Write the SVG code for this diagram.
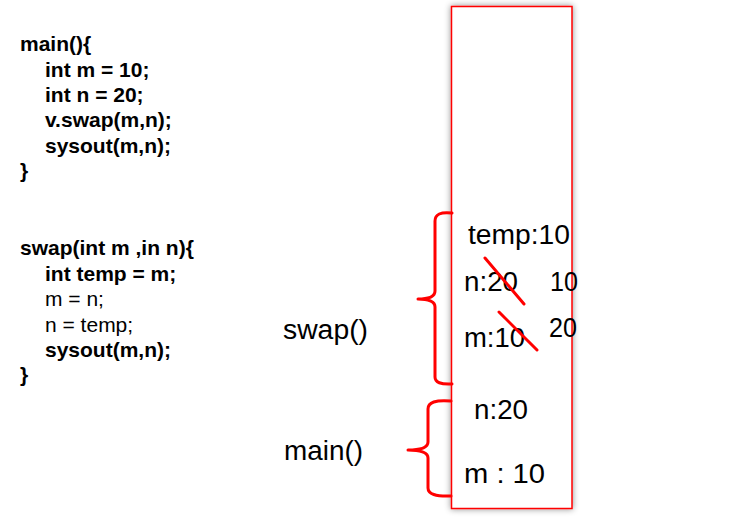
<svg xmlns="http://www.w3.org/2000/svg" width="748" height="517" viewBox="0 0 748 517">
<style>
.code{font-family:"Liberation Sans",Arial,sans-serif;font-size:21px;fill:#000}
.b{font-weight:bold}
.lbl{font-family:"Liberation Sans",Arial,sans-serif;font-size:27px;fill:#000}
.brace{fill:none;stroke:#ff0000;stroke-width:3;stroke-linejoin:round;stroke-linecap:round}
.strike{stroke:#ff0000;stroke-width:3;stroke-linecap:round}
</style>
<defs>
<filter id="sh" x="-10%" y="-5%" width="120%" height="110%">
<feGaussianBlur in="SourceAlpha" stdDeviation="3"/>
<feColorMatrix type="matrix" values="0 0 0 0 0  0 0 0 0 0  0 0 0 0 0  0 0 0 0.45 0"/>
<feMerge><feMergeNode/><feMergeNode in="SourceGraphic"/></feMerge>
</filter>
</defs>
<rect width="748" height="517" fill="#fff"/>
<g id="main-code">
<text class="code b" x="20" y="51">main(){</text>
<text class="code b" x="45" y="76.5">int m = 10;</text>
<text class="code b" x="45" y="102">int n = 20;</text>
<text class="code b" x="45" y="127">v.swap(m,n);</text>
<text class="code b" x="45" y="152.5">sysout(m,n);</text>
<text class="code b" x="20" y="178">}</text>
</g>
<g id="swap-code">
<text class="code b" x="20" y="255">swap(int m ,in n){</text>
<text class="code b" x="45" y="280.5">int temp = m;</text>
<text class="code" x="45" y="306">m = n;</text>
<text class="code" x="45" y="331.5">n = temp;</text>
<text class="code b" x="45" y="357">sysout(m,n);</text>
<text class="code b" x="20" y="382">}</text>
</g>
<g id="stack">
<rect x="451.5" y="6.5" width="120.5" height="502" fill="#fff" stroke="#ff0000" stroke-width="1.5" filter="url(#sh)"/>
</g>
<g id="swap-frame">
<text class="lbl" x="283" y="339" textLength="85" lengthAdjust="spacingAndGlyphs">swap()</text>
<text class="lbl" x="468" y="244" textLength="102" lengthAdjust="spacingAndGlyphs">temp:10</text>
<text class="lbl" x="464" y="291" textLength="54" lengthAdjust="spacingAndGlyphs">n:20</text>
<text class="lbl" x="550" y="291" textLength="28" lengthAdjust="spacingAndGlyphs">10</text>
<text class="lbl" x="464" y="347" textLength="61" lengthAdjust="spacingAndGlyphs">m:10</text>
<text class="lbl" x="549" y="337" textLength="28" lengthAdjust="spacingAndGlyphs">20</text>
<line class="strike" x1="485" y1="258" x2="524" y2="304"/>
<line class="strike" x1="499" y1="312" x2="537" y2="350"/>
</g>
<g id="main-frame">
<text class="lbl" x="284" y="460" textLength="79" lengthAdjust="spacingAndGlyphs">main()</text>
<text class="lbl" x="474" y="419" textLength="54" lengthAdjust="spacingAndGlyphs">n:20</text>
<text class="lbl" x="464" y="483" textLength="81" lengthAdjust="spacingAndGlyphs">m : 10</text>
</g>
<g id="connectors">
<path class="brace" d="M452,213 Q435,211 435,221 L435,291 Q435,299 418,299 Q435,299 435,307 L435,377 Q435,385 452,384"/>
<path class="brace" d="M451,401 Q428,399 428,409 L428,442 Q428,450 408,450 Q428,450 428,458 L428,488 Q428,497 451,496"/>
</g>
</svg>
